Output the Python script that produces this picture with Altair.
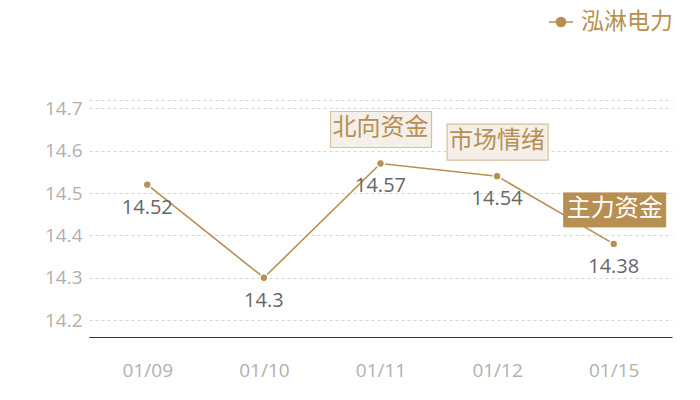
import altair as alt
import pandas as pd

dates = ["01/09", "01/10", "01/11", "01/12", "01/15"]
values = [14.52, 14.3, 14.57, 14.54, 14.38]
labels = ["14.52", "14.3", "14.57", "14.54", "14.38"]
series = "泓淋电力"

ann_dates = ["01/11", "01/12", "01/15"]
ann_text = ["北向资金", "市场情绪", "主力资金"]
ann_filled = [False, False, True]

y_ticks = [14.2, 14.3, 14.4, 14.5, 14.6, 14.7, 14.72]

GOLD = "#b78f52"
CJK = "Noto Sans CJK SC"
NUM = "Open Sans"

df = pd.DataFrame({"date": dates, "value": values, "label": labels, "series": series})
ann = pd.DataFrame({
    "date": ann_dates,
    "text": ann_text,
    "filled": ann_filled,
    "value": [values[dates.index(d)] for d in ann_dates],
})

xs = alt.X("date:N", sort=dates,
           scale=alt.Scale(type="point", padding=0.5),
           axis=alt.Axis(title=None, labelFont=NUM, labelFontSize=19, labelColor="#b0b0b0",
                         labelPadding=24, ticks=False, domainColor="#333333", domainWidth=1.2,
                         grid=False, labelAngle=0))
ys = alt.Y("value:Q",
           scale=alt.Scale(domain=[14.16, 14.72], nice=False, zero=False),
           axis=alt.Axis(title=None, values=y_ticks,
                         labelExpr="datum.value > 14.71 ? '' : format(datum.value, '.1f')",
                         labelFont=NUM, labelFontSize=19, labelColor="#b0b0b0",
                         labelPadding=7, ticks=False, domain=False, grid=True,
                         gridColor="#cccccc", gridDash=[3, 3], gridWidth=0.8))

legend_symbol = "M-1,0H-0.38M0.38,0H1M-0.38,0A0.38,0.38 0 1,1 0.38,0A0.38,0.38 0 1,1 -0.38,0Z"

base = alt.Chart(df)

line = base.mark_line(strokeWidth=1.6).encode(
    x=xs, y=ys,
    color=alt.Color("series:N", scale=alt.Scale(range=[GOLD]),
                    legend=alt.Legend(title=None, orient="none", legendX=459, legendY=-91,
                                      symbolType=legend_symbol, symbolSize=576,
                                      symbolStrokeWidth=1.6, symbolFillColor=GOLD,
                                      symbolStrokeColor=GOLD,
                                      labelFont=CJK, labelFontSize=23, labelColor=GOLD,
                                      labelOffset=7, labelLimit=200)),
)
points = base.mark_point(filled=True, size=55, opacity=1, stroke="white", strokeWidth=2,
                         color=GOLD, fill=GOLD).encode(x=xs, y=ys)
points2 = base.mark_circle(size=40, opacity=1, color=GOLD).encode(x=xs, y=ys)
text = base.mark_text(font=NUM, fontSize=20, color="#666666", dy=23).encode(
    x=xs, y=ys, text="label:N")

abase = alt.Chart(ann)
box_light = abase.transform_filter("!datum.filled").mark_rect(
    fill="#f4efe8", stroke="#d7c09a", strokeWidth=1.2,
    xOffset=-50, x2Offset=51, yOffset=-52, y2Offset=-16).encode(
    x=xs, x2="date:N", y=ys, y2="value:Q")
box_dark = abase.transform_filter("datum.filled").mark_rect(
    fill=GOLD, stroke=GOLD,
    xOffset=-50, x2Offset=52, yOffset=-51, y2Offset=-17).encode(
    x=xs, x2="date:N", y=ys, y2="value:Q")
atext_light = abase.transform_filter("!datum.filled").mark_text(
    font=CJK, fontSize=24, color=GOLD, dy=-35, baseline="middle").encode(
    x=xs, y=ys, text="text:N")
atext_dark = abase.transform_filter("datum.filled").mark_text(
    font=CJK, fontSize=24, color="white", dy=-35, dx=1, baseline="middle").encode(
    x=xs, y=ys, text="text:N")

chart = alt.layer(line, points, points2, text, box_light, box_dark, atext_light, atext_dark).properties(
    width=583, height=237,
    background="white",
    autosize=alt.AutoSizeParams(type="none"),
    padding={"left": 81, "top": 92, "right": 20, "bottom": 55},
).configure_view(strokeWidth=0, stroke="transparent")

chart.save("out.html", embed_options={"renderer": "svg", "actions": False})
